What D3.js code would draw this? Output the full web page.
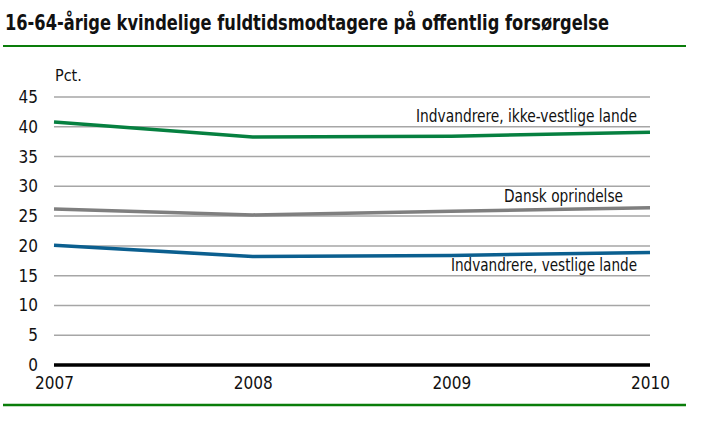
<!DOCTYPE html>
<html>
<head>
<meta charset="utf-8">
<script src="https://cdn.jsdelivr.net/npm/d3@7"></script>
<style>
  body { margin: 0; background: #fff; }
  text { font-family: "DejaVu Sans Condensed", "Liberation Sans Narrow", sans-serif; fill: #111; }
</style>
</head>
<body>
<div id="chart"></div>
<script>
const years = [2007, 2008, 2009, 2010];
const ikkeVestlige = [40.8, 38.3, 38.4, 39.1];
const danskOprindelse = [26.2, 25.2, 25.8, 26.4];
const vestlige = [20.1, 18.2, 18.4, 18.9];
const yTicks = [0, 5, 10, 15, 20, 25, 30, 35, 40, 45];

const series = [
    { name: 'Indvandrere, ikke-vestlige lande', values: ikkeVestlige, color: '#068040', labelY: 122, labelEnd: 637, labelW: 221 },
    { name: 'Dansk oprindelse', values: danskOprindelse, color: '#7f7f7f', labelY: 202, labelEnd: 623, labelW: 119 },
    { name: 'Indvandrere, vestlige lande', values: vestlige, color: '#0b5f8f', labelY: 271, labelEnd: 637, labelW: 186 }
];

const svg = d3.select('#chart').append('svg')
    .attr('width', 712)
    .attr('height', 426);

// title + green rules
svg.append('text')
    .attr('x', 5)
    .attr('y', 30)
    .attr('textLength', 604)
    .attr('lengthAdjust', 'spacingAndGlyphs')
    .style('font-size', '21px')
    .style('font-weight', 'bold')
    .text('16-64-årige kvindelige fuldtidsmodtagere på offentlig forsørgelse');

svg.append('line').attr('x1', 3).attr('x2', 686).attr('y1', 46).attr('y2', 46)
    .attr('stroke', '#0a7d0a').attr('stroke-width', 2);
svg.append('line').attr('x1', 3).attr('x2', 686).attr('y1', 405).attr('y2', 405)
    .attr('stroke', '#0a7d0a').attr('stroke-width', 2.5);

const x = d3.scaleLinear().domain([2007, 2010]).range([54, 650]);
const y = d3.scaleLinear().domain([0, 45]).range([365, 97]);

// gridlines
svg.append('g')
    .selectAll('line')
    .data(yTicks.filter(d => d > 0))
    .join('line')
    .attr('x1', x(2007)).attr('x2', x(2010))
    .attr('y1', d => y(d)).attr('y2', d => y(d))
    .attr('stroke', '#a6a6a6')
    .attr('stroke-width', 1.5);

// y axis labels
const yAxis = svg.append('g')
    .attr('transform', `translate(${x(2007)},0)`)
    .call(d3.axisLeft(y).tickValues(yTicks).tickSize(0).tickPadding(16));
yAxis.select('.domain').remove();
yAxis.selectAll('text')
    .style('font-size', '17px')
    .style('font-family', '"DejaVu Sans Condensed", sans-serif')
    .attr('fill', '#111');

svg.append('text')
    .attr('x', 55)
    .attr('y', 81)
    .style('font-size', '16px')
    .text('Pct.');

// x axis
const xAxis = svg.append('g')
    .attr('transform', `translate(0,${y(0)})`)
    .call(d3.axisBottom(x).tickValues(years).tickFormat(d3.format('d')).tickSize(0).tickPadding(12));
xAxis.select('.domain').remove();
xAxis.selectAll('text')
    .style('font-size', '17px')
    .style('font-family', '"DejaVu Sans Condensed", sans-serif')
    .attr('fill', '#111');

svg.append('line')
    .attr('x1', x(2007)).attr('x2', x(2010))
    .attr('y1', y(0)).attr('y2', y(0))
    .attr('stroke', '#000')
    .attr('stroke-width', 3.5);

// lines
const line = d3.line()
    .x((d, i) => x(years[i]))
    .y(d => y(d));

series.forEach(s => {
    svg.append('path')
        .datum(s.values)
        .attr('fill', 'none')
        .attr('stroke', s.color)
        .attr('stroke-width', 3.5)
        .attr('d', line);
});

// labels
svg.append('g')
    .selectAll('text')
    .data(series)
    .join('text')
    .attr('x', d => d.labelEnd)
    .attr('y', d => d.labelY)
    .attr('text-anchor', 'end')
    .attr('textLength', d => d.labelW)
    .attr('lengthAdjust', 'spacingAndGlyphs')
    .style('font-size', '17px')
    .text(d => d.name);
</script>
</body>
</html>
